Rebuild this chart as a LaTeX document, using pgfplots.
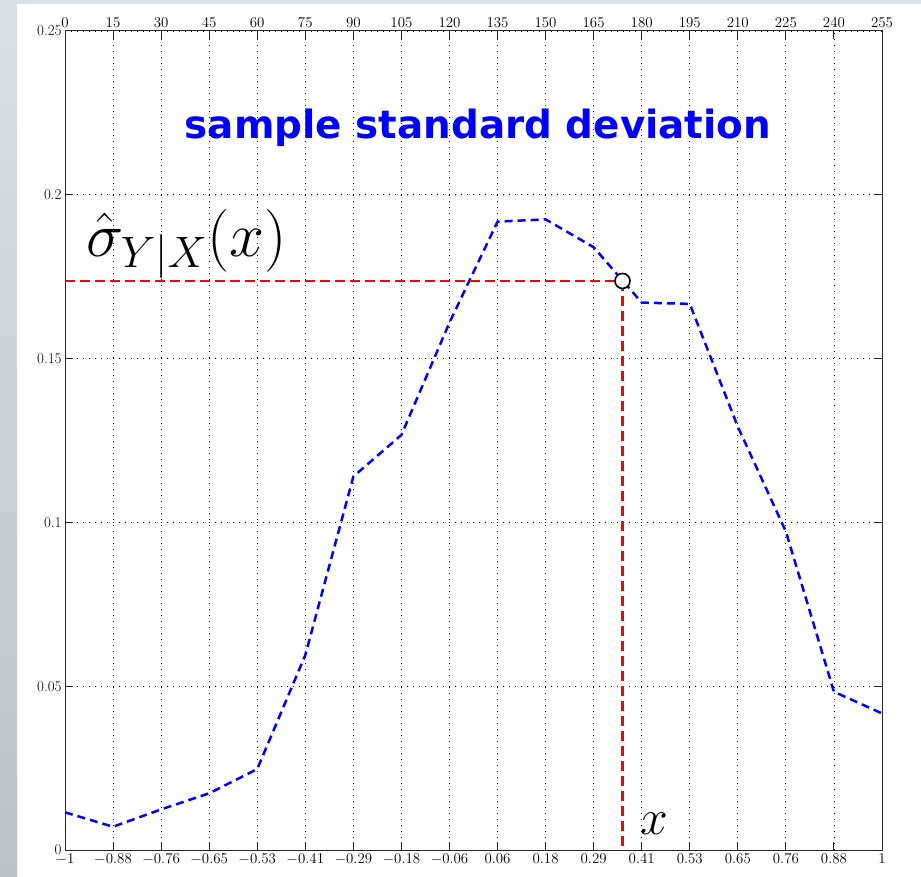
\RequirePackage{fix-cm}
\documentclass[border=0pt]{standalone}
\usepackage{fontspec}
\usepackage{pgfplots}
\pgfplotsset{compat=1.18}
\newfontfamily\titlefont{DejaVu Sans}

\definecolor{slidegrayA}{RGB}{218,224,229}
\definecolor{slidegrayB}{RGB}{188,195,200}

% sample std. dev. read at the 18 top-axis ticks (0..255)
\pgfplotstableread{
x     s
0     0.0115
15    0.0071
30    0.0124
45    0.0173
60    0.0247
75    0.0595
90    0.1140
105   0.1267
120   0.1610
135   0.1918
150   0.1925
165   0.1840
180   0.1671
195   0.1667
210   0.1292
225   0.0972
240   0.0483
255   0.0417
}\sdtable

\begin{document}
\begin{tikzpicture}
\useasboundingbox (0,0) rectangle (921bp,877bp);
\shade[top color=slidegrayA, bottom color=slidegrayB] (0,0) rectangle (17bp,877bp);
\fill[slidegrayA] (0,873bp) rectangle (921bp,877bp);

\pgfplotsset{
  common/.style={
    scale only axis, width=817bp, height=819bp,
    at={(65bp,27bp)}, anchor=south west,
    xmin=0, xmax=255, ymin=0, ymax=0.25,
    xtick={0,15,...,255},
    tick align=inside, major tick length=8bp,
    tick label style={font=\fontsize{15}{17}\selectfont},
  },
}

\begin{axis}[common,
  xtick pos=both, ytick pos=both,
  xticklabel pos=lower, yticklabel pos=left,
  xticklabels={$-1$,$-0.88$,$-0.76$,$-0.65$,$-0.53$,$-0.41$,$-0.29$,$-0.18$,$-0.06$,
    $0.06$,$0.18$,$0.29$,$0.41$,$0.53$,$0.65$,$0.76$,$0.88$,$1$},
  ytick={0,0.05,0.1,0.15,0.2,0.25},
  yticklabels={0,0.05,0.1,0.15,0.2,0.25},
  grid=major,
  major grid style={black, line width=0.9bp, dash pattern=on 1bp off 5bp},
  axis line style={black!85, line width=1bp},
  every tick/.style={black!85, line width=1bp},
  clip=false,
]
\addplot[blue, line width=2.5bp, dash pattern=on 8bp off 5bp] table[x=x, y=s] {\sdtable};
\addplot[red, line width=2.5bp, dash pattern=on 10bp off 5bp] coordinates {(0,0.1737) (174,0.1737)};
\addplot[red, line width=2.5bp, dash pattern=on 10bp off 5bp] coordinates {(174,0.1737) (174,0)};
\addplot[only marks, mark=*, mark size=7.5bp,
  mark options={fill=white, draw=black, line width=1.6bp}] coordinates {(174,0.1737)};

\node[anchor=base, inner sep=0, text=blue, font=\titlefont\bfseries\fontsize{39}{46}\selectfont]
  at (axis cs:128.9,0.2173) {sample standard deviation};
\node[anchor=base west, inner sep=0, font=\fontsize{63}{72}\selectfont]
  at (axis cs:6.5,0.1813) {$\hat{\sigma}_{Y|X}(x)$};
\node[anchor=base west, inner sep=0, font=\fontsize{50}{60}\selectfont]
  at (axis cs:179.5,0.0046) {$x$};
\end{axis}

\begin{axis}[common,
  xtick pos=upper, xticklabel pos=upper,
  ytick=\empty,
  major tick length=0bp,
  axis line style={draw=none},
]
\end{axis}
\end{tikzpicture}
\end{document}
